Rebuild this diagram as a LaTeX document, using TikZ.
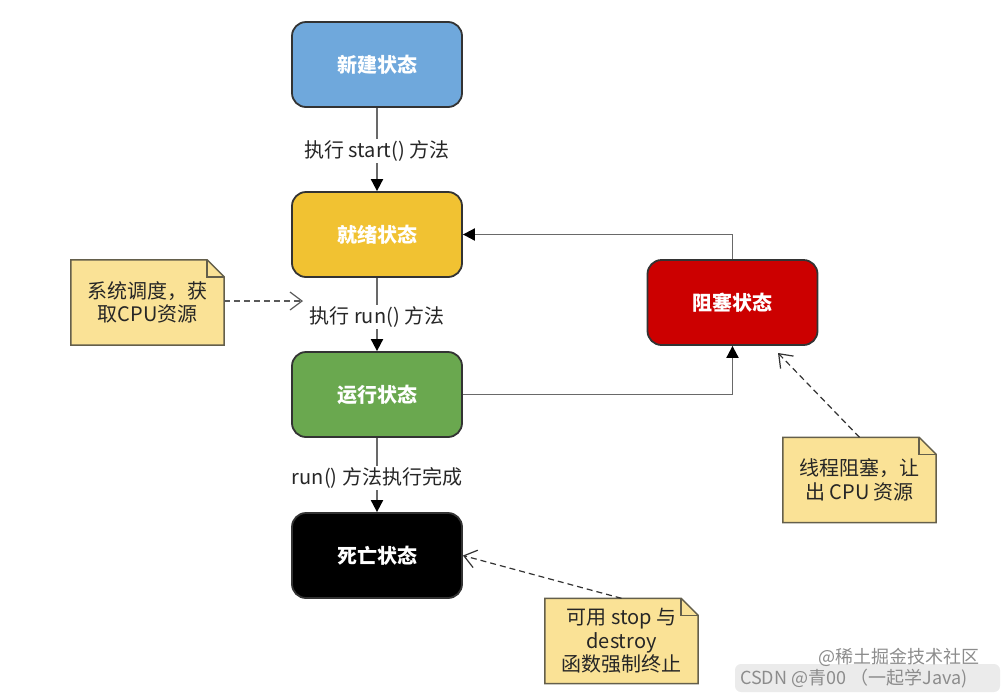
\documentclass[tikz,border=0pt]{standalone}
\usepackage{fontspec}
\setmainfont{Noto Sans CJK SC}
\usetikzlibrary{arrows.meta,backgrounds}
\definecolor{cblue}{HTML}{6FA8DC}
\definecolor{cyellow}{HTML}{F1C232}
\definecolor{cgreen}{HTML}{6AA84F}
\definecolor{cred}{HTML}{CC0000}
\definecolor{notefill}{RGB}{250,226,150}
\definecolor{noteline}{RGB}{100,95,75}
\definecolor{connline}{RGB}{105,105,105}
\tikzset{
  state/.style={draw=black!80, line width=1.8pt, rounded corners=14pt,
    minimum width=170pt, minimum height=85pt,
    font=\bfseries\fontsize{20}{24}\selectfont, text=white},
  lbl/.style={fill=white, font=\fontsize{20}{24}\selectfont, inner sep=1.5pt, text=black!85},
  notetext/.style={font=\fontsize{20}{23.5}\selectfont, align=center, text=black!85,
    minimum width=153pt, minimum height=85pt, inner sep=0pt},
  notebox/.style={fill=notefill, draw=noteline, line width=1.5pt, line join=miter},
  conn/.style={draw=connline, line width=1.9pt, -{Triangle[width=12pt,length=12pt,color=black]}},
  dconn/.style={draw=black!80, line width=1.2pt, dash pattern=on 6pt off 4pt,
    -{Straight Barb[length=12pt,width=18pt,line width=1.2pt]}},
  wm/.style={font=\fontsize{18}{20}\selectfont, text=black!45, inner sep=0pt}
}
\newcommand{\drawnote}[1]{%
  \begin{scope}[on background layer]
  \path[notebox] (#1.south west) -- (#1.north west) -- ([xshift=-17pt]#1.north east)
    -- ([yshift=-17pt]#1.north east) -- (#1.south east) -- cycle;
  \draw[noteline, line width=1.5pt, line join=miter] ([xshift=-17pt]#1.north east)
    -- ([xshift=-17pt,yshift=-17pt]#1.north east) -- ([yshift=-17pt]#1.north east);
  \end{scope}}
\begin{document}
\begin{tikzpicture}[x=1pt,y=-1pt]
\useasboundingbox (0,0) rectangle (1001,694);
% states
\node[state, fill=cblue]   (new)   at (377,64.5)  {新建状态};
\node[state, fill=cyellow] (ready) at (377,234.5) {就绪状态};
\node[state, fill=cgreen]  (run)   at (377,394.5) {运行状态};
\node[state, fill=black]   (dead)  at (377,555.5) {死亡状态};
\node[state, fill=cred]    (block) at (732.5,302.5) {阻塞状态};
% notes
\node[notetext] (n1) at (147.5,302.5) {系统调度，获\\取CPU资源};
\node[notetext] (n2) at (859.5,480) {线程阻塞，让\\出 CPU 资源};
\node[notetext] (n3) at (621.5,641) {可用 stop 与\\destroy\\函数强制终止};
\drawnote{n1}\drawnote{n2}\drawnote{n3}
% connectors
\draw[conn] (new) -- node[lbl, pos=0.52] {执行 start() 方法} (ready);
\draw[conn] (ready) -- node[lbl, pos=0.53] (rl) {执行 run() 方法} (run);
\draw[conn] (run) -- node[lbl, pos=0.54] {run() 方法执行完成} (dead);
\draw[conn] (run.east) -- (block.south |- run.east) -- (block.south);
\draw[conn] (block.north) -- (block.north |- ready.east) -- (ready.east);
% dashed note arrows
\coordinate (t1) at (303,301);
\coordinate (t2) at (778,353);
\draw[dconn, draw=black!65, line width=1.8pt] (n1.east |- t1) -- (t1);
\draw[dconn] (n2.north) -- (t2);
\draw[dconn] (n3.north) -- (dead.east);
% watermark
\fill[black!8, rounded corners=6pt] (735,664) rectangle (1000,692);
\node[wm, anchor=west] (w1) at (818,657) {@稀土掘金技术社区};
\node[wm, anchor=west] (w2) at (740,679) {CSDN @青00 （一起学Java)};
\end{tikzpicture}
\end{document}
